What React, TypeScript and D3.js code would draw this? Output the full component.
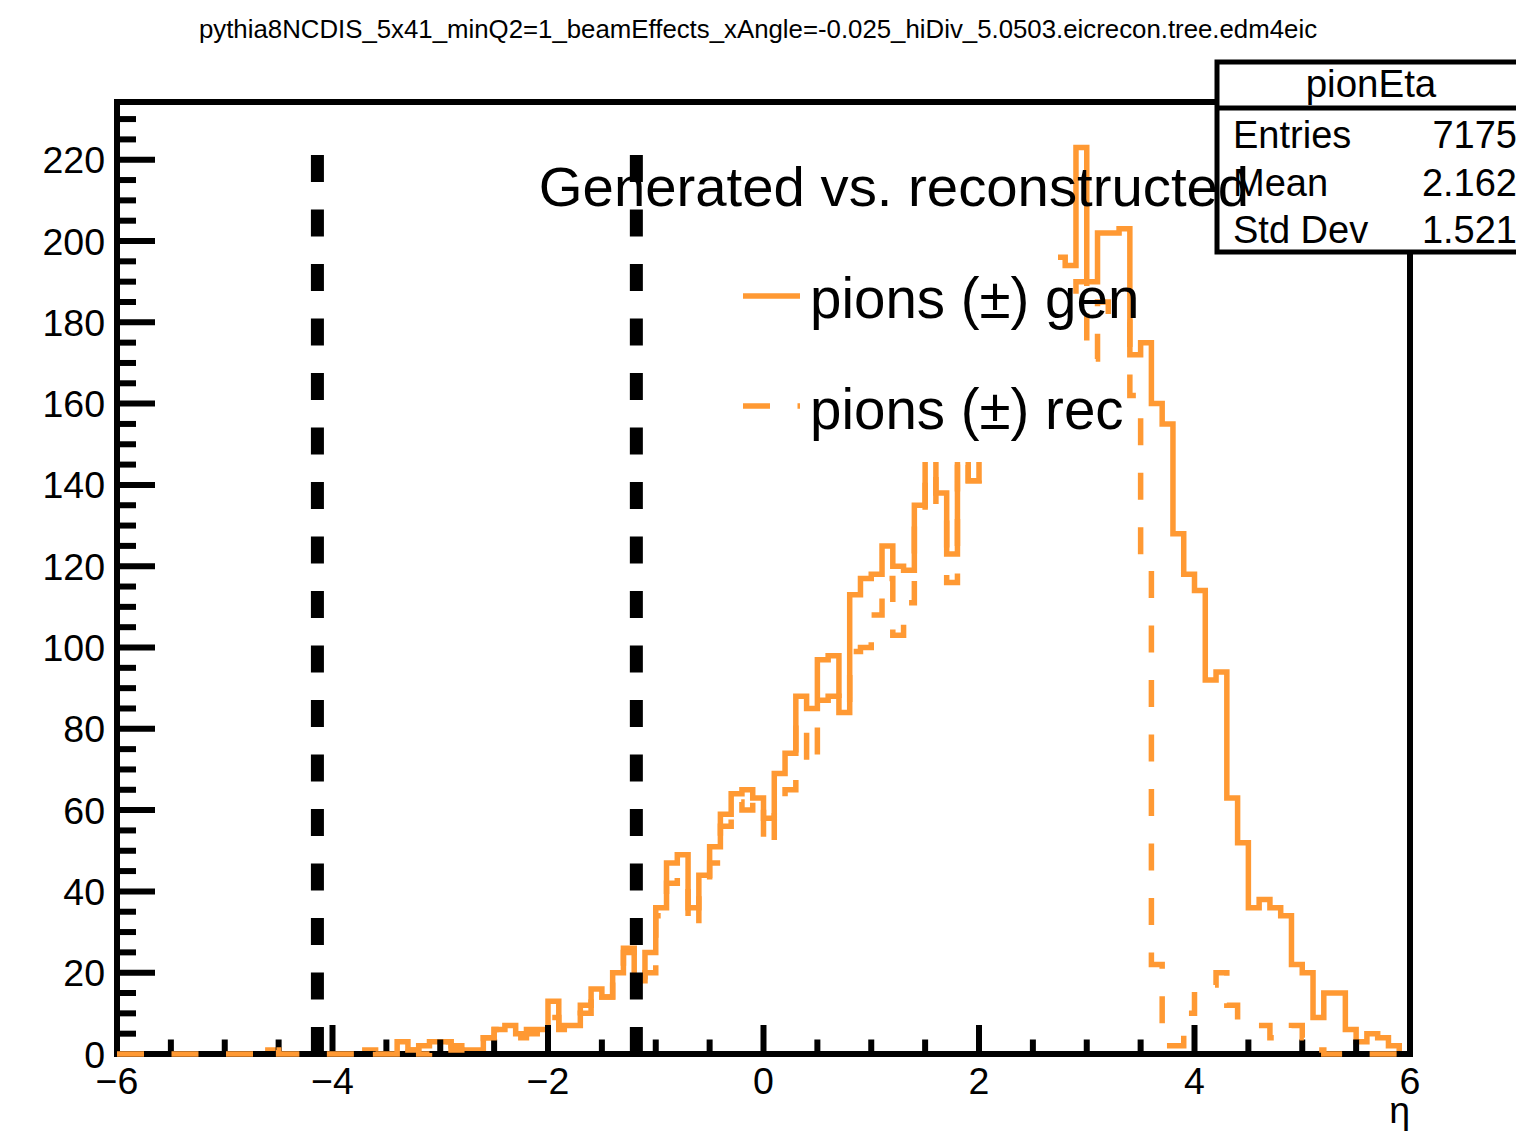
import React from 'react';
import * as d3 from 'd3';

const W = 1516;
const H = 1132;

// histogram definition: 120 bins of width 0.1 from -6 to 6
const binLow = -6;
const binWidth = 0.1;

const genCounts = [
  0, 0, 0, 0, 0, 0, 0, 0, 0, 0,
  0, 0, 0, 0, 1, 0, 0, 0, 0, 0,
  0, 0, 0, 1, 0, 0, 3, 1, 2, 3,
  3, 2, 1, 1, 4, 6, 7, 5, 6, 6,
  13, 7, 7, 12, 16, 14, 20, 26, 18, 25,
  36, 47, 49, 36, 44, 51, 59, 64, 65, 63,
  58, 69, 74, 88, 85, 97, 98, 84, 113, 117,
  118, 125, 120, 119, 135, 155, 138, 123, 158, 141,
  150, 160, 170, 178, 185, 190, 192, 196, 194, 223,
  190, 202, 202, 203, 172, 175, 160, 155, 128, 118,
  114, 92, 94, 63, 52, 36, 38, 36, 34, 22,
  20, 9, 15, 15, 6, 3, 5, 4, 2, 0,
];

const recCounts = [
  0, 0, 0, 0, 0, 0, 0, 0, 0, 0,
  0, 0, 0, 0, 1, 0, 0, 0, 0, 0,
  0, 0, 0, 1, 0, 0, 3, 1, 0, 2,
  3, 1, 1, 1, 4, 6, 5, 4, 5, 6,
  9, 6, 8, 10, 16, 14, 20, 25, 19, 20,
  34, 42, 44, 31, 42, 47, 56, 62, 60, 63,
  51, 63, 65, 82, 71, 87, 88, 85, 99, 100,
  108, 117, 103, 111, 131, 150, 133, 116, 147, 141,
  148, 152, 157, 162, 166, 170, 168, 185, 185, 190,
  171, 185, 180, 180, 162, 122, 22, 2, 2, 10,
  16, 17, 20, 12, 7, 7, 7, 4, 5, 7,
  4, 1, 0, 0, 0, 0, 0, 0, 0, 0,
];

const etaCuts = [-4.14, -1.18];
const xMajorTicks = [-6, -4, -2, 0, 2, 4, 6];
const xTickLabels = ['\u22126', '\u22124', '\u22122', '0', '2', '4', '6'];
const yMajorTicks = [0, 20, 40, 60, 80, 100, 120, 140, 160, 180, 200, 220];
const yTickLabels = ['0', '20', '40', '60', '80', '100', '120', '140', '160', '180', '200', '220'];

const titleText = 'pythia8NCDIS_5x41_minQ2=1_beamEffects_xAngle=-0.025_hiDiv_5.0503.eicrecon.tree.edm4eic';
const legendHeader = 'Generated vs. reconstructed';
const legendLabels = ['pions (\u00b1) gen', 'pions (\u00b1) rec'];
const statsName = 'pionEta';
const statsLabels = ['Entries', 'Mean', 'Std Dev'];
const statsValues = ['7175', '2.162', '1.521'];
const xTitle = '\u03b7';

const ORANGE = '#ff9933';
const FONT = '"Liberation Sans", Arial, Helvetica, sans-serif';

export default function App() {
  const x = d3.scaleLinear().domain([-6, 6]).range([117, 1410]);
  const y = d3.scaleLinear().domain([0, 234.2]).range([1054, 102]);

  const histPath = (counts: number[]) => {
    const pts: [number, number][] = [[x(binLow), y(0)]];
    counts.forEach((c, i) => {
      const e0 = binLow + i * binWidth;
      const e1 = e0 + binWidth;
      pts.push([x(e0), y(c)], [x(e1), y(c)]);
    });
    pts.push([x(binLow + counts.length * binWidth), y(0)]);
    return d3.line()(pts) as string;
  };

  const xMinor = d3.range(-6, 6.0001, 0.5).filter((v) => !xMajorTicks.some((m) => Math.abs(m - v) < 1e-6));
  const yMinor = d3.range(0, 231, 5).filter((v) => v % 20 !== 0);
  const genMax = d3.max(genCounts) as number;

  const x0 = x(-6), x1 = x(6), yb = y(0), yt = y(234.2);
  const HW = 5.5;

  return (
    <svg width={W} height={H} style={{ position: 'absolute', left: 0, top: 0, background: '#fff' }} fontFamily={FONT}>
      <rect x={0} y={0} width={W} height={H} fill="#fff" />
      {/* generated histogram (under frame) */}
      <path d={histPath(genCounts)} fill="none" stroke={ORANGE} strokeWidth={HW} strokeLinejoin="miter" />

      {/* frame */}
      <rect x={x0} y={yt} width={x1 - x0} height={yb - yt} fill="none" stroke="#000" strokeWidth={6} />
      {/* x ticks */}
      {xMajorTicks.map((v) => (
        <line key={'xM' + v} x1={x(v)} x2={x(v)} y1={yb} y2={yb - 29} stroke="#000" strokeWidth={6} />
      ))}
      {xMinor.map((v) => (
        <line key={'xm' + v} x1={x(v)} x2={x(v)} y1={yb} y2={yb - 14.5} stroke="#000" strokeWidth={6} />
      ))}
      {/* y ticks */}
      {yMajorTicks.map((v) => (
        <line key={'yM' + v} x1={x0} x2={x0 + 38} y1={y(v)} y2={y(v)} stroke="#000" strokeWidth={6} />
      ))}
      {yMinor.map((v) => (
        <line key={'ym' + v} x1={x0} x2={x0 + 19} y1={y(v)} y2={y(v)} stroke="#000" strokeWidth={6} />
      ))}
      {/* tick labels */}
      {yMajorTicks.map((v, i) => (
        <text key={'yl' + v} x={105} y={y(v) + 13.5} fontSize={37.5} textAnchor="end" fill="#000">{yTickLabels[i]}</text>
      ))}
      {xMajorTicks.map((v, i) => (
        <text key={'xl' + v} x={x(v)} y={1094} fontSize={37.5} textAnchor="middle" fill="#000">{xTickLabels[i]}</text>
      ))}
      <text x={1410} y={1123} fontSize={37.5} textAnchor="end" fill="#000">{xTitle}</text>

      {/* reconstructed histogram (dashed, over frame) */}
      <path d={histPath(recCounts)} fill="none" stroke={ORANGE} strokeWidth={HW} strokeDasharray="27 27.5" strokeLinejoin="miter" />

      {/* eta cut lines */}
      {etaCuts.map((v) => (
        <line key={'cut' + v} x1={x(v)} x2={x(v)} y1={y(0)} y2={y(genMax)} stroke="#000" strokeWidth={13} strokeDasharray="27 27.5" />
      ))}

      {/* stats box */}
      <rect x={1217} y={62} width={320} height={190} fill="#fff" stroke="#000" strokeWidth={5} />
      <line x1={1217} x2={W + 10} y1={108} y2={108} stroke="#000" strokeWidth={5} />
      <text x={1371} y={97} fontSize={38.5} textAnchor="middle" fill="#000">{statsName}</text>
      {statsLabels.map((l, i) => (
        <text key={l} x={1233} y={148 + i * 47.5} fontSize={38} fill="#000">{l}</text>
      ))}
      {statsValues.map((v, i) => (
        <text key={'sv' + i} x={1517} y={148 + i * 47.5} fontSize={38} textAnchor="end" fill="#000">{v}</text>
      ))}

      {/* legend */}
      <rect x={735} y={128} width={323} height={334} fill="#fff" stroke="none" />
      <text x={894} y={206} fontSize={56.3} textAnchor="middle" fill="#000">{legendHeader}</text>
      <line x1={743} x2={800} y1={296} y2={296} stroke={ORANGE} strokeWidth={HW} />
      <text x={810} y={318} fontSize={56.5} fill="#000">{legendLabels[0]}</text>
      <line x1={743} x2={800} y1={406} y2={406} stroke={ORANGE} strokeWidth={HW} strokeDasharray="27 27.5" />
      <text x={810} y={429} fontSize={56.5} fill="#000">{legendLabels[1]}</text>

      {/* title */}
      <text x={758} y={38} fontSize={25.8} textAnchor="middle" fill="#000">{titleText}</text>
    </svg>
  );
}
